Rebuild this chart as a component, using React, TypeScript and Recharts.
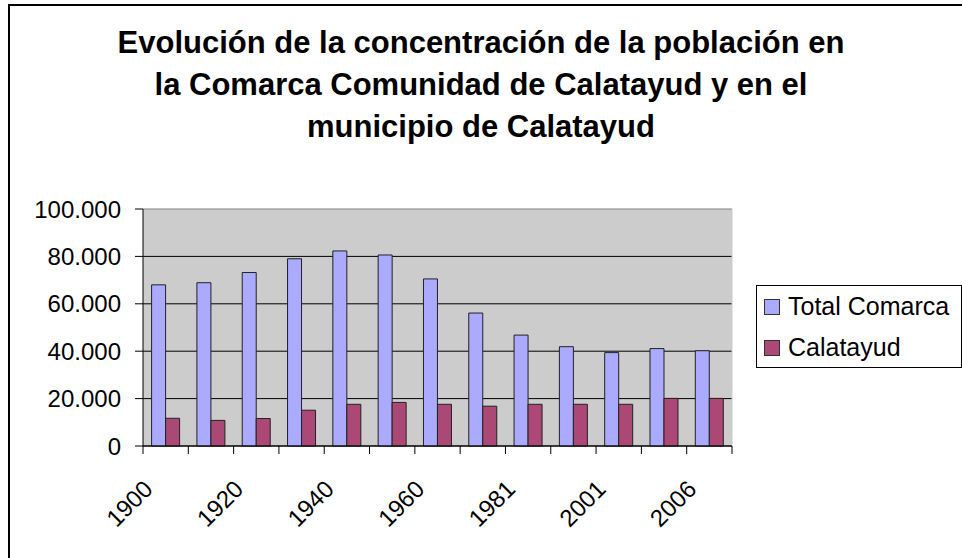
import { BarChart, Bar, XAxis, YAxis, CartesianGrid, Legend } from "recharts";

const years = ["1900", "1910", "1920", "1930", "1940", "1950", "1960", "1970", "1981", "1991", "2001", "2004", "2006"];
const totalComarca = [68000, 68900, 73200, 79000, 82300, 80600, 70500, 56100, 46800, 41900, 39400, 41100, 40200];
const calatayud = [11700, 10800, 11600, 15100, 17600, 18400, 17600, 16800, 17600, 17600, 17600, 20100, 20100];
const yTicks = [0, 20000, 40000, 60000, 80000, 100000];
const titleLines = [
  "Evolución de la concentración de la población en",
  "la Comarca Comunidad de Calatayud y en el",
  "municipio de Calatayud",
];

const data = years.map((year, i) => ({ year, total: totalComarca[i], cal: calatayud[i] }));

const FONT = '"Liberation Sans", Arial, sans-serif';
const BLUE = "#aaaaff";
const RED = "#ab4876";
const PLOT_LEFT = 143;
const PLOT_RIGHT = 732;
const BAND = (PLOT_RIGHT - PLOT_LEFT) / years.length;

const fmt = (v: number) => String(v).replace(/\B(?=(\d{3})+(?!\d))/g, ".");

// ticks sit on the category boundaries, labels on every other category
function XTick(props: any) {
  const { x, y, payload, index } = props;
  const last = index === years.length - 1;
  return (
    <g>
      <line x1={x - BAND / 2} y1={y} x2={x - BAND / 2} y2={y + 8} stroke="#000" />
      {last && <line x1={x + BAND / 2} y1={y} x2={x + BAND / 2} y2={y + 8} stroke="#000" />}
      {index % 2 === 0 && (
        <text
          transform={`translate(${x - 11.5},${y + 44.5}) rotate(-45)`}
          textAnchor="end"
          fontSize={24}
          fontFamily={FONT}
          fill="#000"
        >
          {payload.value}
        </text>
      )}
    </g>
  );
}

function GridLine(props: any) {
  const { x1, x2, y1, y2 } = props;
  const top = y1 < 215;
  return <line x1={x1} x2={x2} y1={y1} y2={y2} stroke={top ? "#808080" : "#000"} strokeWidth={1} />;
}

function LegendBox() {
  const items = [
    { name: "Total Comarca", color: BLUE },
    { name: "Calatayud", color: RED },
  ];
  return (
    <div
      style={{
        width: 206,
        height: 83,
        border: "1px solid #000",
        background: "#fff",
        boxSizing: "border-box",
        fontFamily: FONT,
        fontSize: 25,
      }}
    >
      {items.map((it) => (
        <div key={it.name} style={{ display: "flex", alignItems: "center", height: 41, paddingLeft: 7 }}>
          <span
            style={{
              display: "inline-block",
              width: 14,
              height: 14,
              background: it.color,
              border: "1px solid #333",
              marginRight: 8,
            }}
          />
          <span>{it.name}</span>
        </div>
      ))}
    </div>
  );
}

export default function App() {
  return (
    <div style={{ position: "absolute", left: 0, top: 0, width: 962, height: 558, overflow: "hidden", background: "#fff" }}>
      <div
        style={{
          position: "absolute",
          left: 8,
          top: 4,
          width: 1000,
          height: 600,
          borderLeft: "2px solid #000",
          borderTop: "2px solid #000",
        }}
      />
      <div style={{ position: "absolute", left: 0, top: 0 }}>
        <BarChart
          width={962}
          height={558}
          data={data}
          margin={{ top: 209, right: 962 - PLOT_RIGHT, bottom: 52, left: 0 }}
          barCategoryGap="19%"
          barGap={0}
        >
          <CartesianGrid
            fill="#cccccc"
            fillOpacity={1}
            horizontal={GridLine}
            vertical={{ stroke: "#808080" }}
            verticalPoints={[PLOT_RIGHT]}
          />
          <XAxis
            dataKey="year"
            interval={0}
            height={60}
            tickSize={0}
            tickMargin={0}
            tickLine={false}
            axisLine={{ stroke: "#000" }}
            tick={<XTick />}
          />
          <YAxis
            width={PLOT_LEFT}
            domain={[0, 100000]}
            ticks={yTicks}
            tickFormatter={fmt}
            tickSize={8}
            tickMargin={14}
            axisLine={{ stroke: "#000" }}
            tickLine={{ stroke: "#000" }}
            tick={{ fill: "#000", fontSize: 24, fontFamily: FONT }}
          />
          <Legend
            layout="vertical"
            align="center"
            verticalAlign="middle"
            content={<LegendBox />}
            wrapperStyle={{ left: 756, top: 285, width: 206, height: 83 }}
          />
          <Bar dataKey="total" name="Total Comarca" fill={BLUE} stroke="#222" strokeWidth={1} isAnimationActive={false} />
          <Bar dataKey="cal" name="Calatayud" fill={RED} stroke="#222" strokeWidth={1} isAnimationActive={false} />
          {titleLines.map((t, i) => (
            <text
              key={i}
              x={481}
              y={53 + i * 42}
              textAnchor="middle"
              fontSize={31}
              fontWeight="bold"
              fontFamily={FONT}
              fill="#000"
            >
              {t}
            </text>
          ))}
        </BarChart>
      </div>
    </div>
  );
}
